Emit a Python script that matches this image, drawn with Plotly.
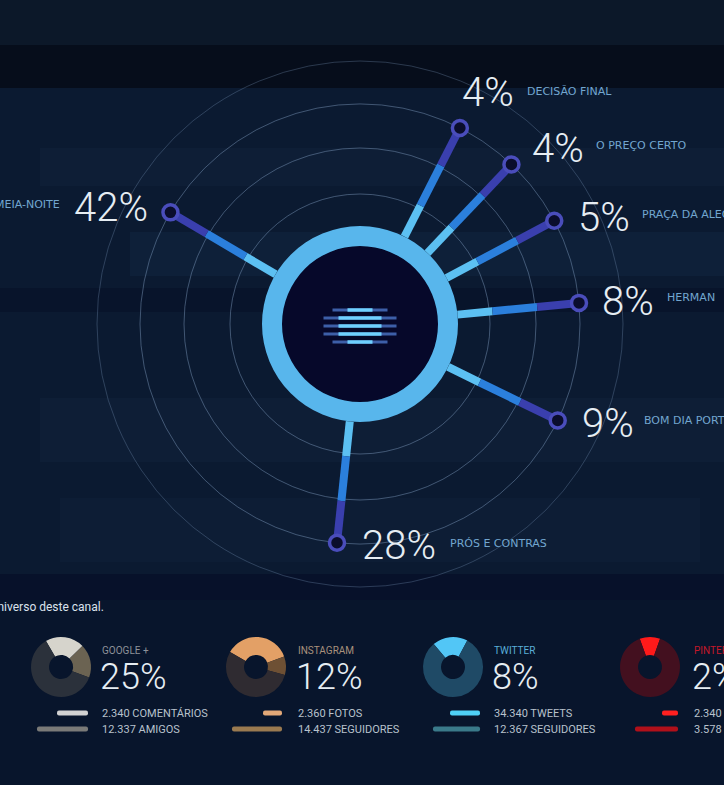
import numpy as np
import plotly.graph_objects as go

W, H = 724, 785

# ---------------- data ----------------
programas = ["MEIA-NOITE", "DECISÃO FINAL", "O PREÇO CERTO", "PRAÇA DA ALEGRIA",
             "HERMAN", "BOM DIA PORTUGAL", "PRÓS E CONTRAS"]
percentagens = [42, 4, 4, 5, 8, 9, 28]
angulos = [149.5, 63.0, 46.5, 28.0, 5.5, -26.0, -96.0]

redes = ["GOOGLE +", "INSTAGRAM", "TWITTER", "PINTEREST"]
redes_pct = [25, 12, 8, 2]
donut_destaque = [21, 36, 19, 11]
donut_secundario = [18, 10, 0, 0]
donut_inicio = [-30, -60, -40, -20]
metrica1 = ["2.340 COMENTÁRIOS", "2.360 FOTOS", "34.340 TWEETS", "2.340 PINS"]
metrica2 = ["12.337 AMIGOS", "14.437 SEGUIDORES", "12.367 SEGUIDORES", "3.578 SEGUIDORES"]
barra1 = [31, 19, 30, 16]
barra2 = [51, 50, 47, 43]

# ---------------- geometry / style ----------------
CX, CY = 360, 324
R_OUT = 263
R_RINGS = [130, 176, 220]
SEG = [(98, 133, "#5cc0f2"), (133, 178, "#2b7fdc"), (178, 220, "#3a3fae")]
R_DOT = 220

PCT_FONT = dict(family="Roboto", size=40, color="#e6edf3", weight=300)
NAME_FONT = dict(family="DejaVu Sans", size=11, color="#72a6cf")

pct_off = [(-20, -5, "right"), (0, -35, "left"), (19, -16, "left"), (22, -3, "left"),
           (21, -1, "left"), (22, 3, "left"), (23, 3, "left")]
name_off = [(-108, -8, "right"), (65, -36, "left"), (83, -19, "left"), (86, -6, "left"),
            (86, -5, "left"), (84, 0, "left"), (111, 1, "left")]

fig = go.Figure()

# --- background bands (decorative) ---
bands = [
    (0, 0, 724, 45, "#0c1829", 1),
    (0, 45, 724, 88, "#060d1b", 1),
    (40, 148, 724, 186, "#10213b", 0.6),
    (130, 232, 724, 276, "#112440", 0.6),
    (0, 288, 724, 312, "#07122a", 0.7),
    (40, 398, 724, 462, "#10213b", 0.6),
    (60, 498, 700, 562, "#0f1f39", 0.5),
    (0, 574, 724, 600, "#07112a", 0.9),
    (0, 600, 724, 785, "#08152c", 1),
]
for x0, y0, x1, y1, c, o in bands:
    fig.add_shape(type="rect", x0=x0, y0=y0, x1=x1, y1=y1, xref="x", yref="y",
                  fillcolor=c, opacity=o, line_width=0, layer="below")

# --- radial chart (polar) ---
fig.add_trace(go.Barpolar(r=[78], base=[0], theta=[0], width=[360],
                          marker=dict(color="#06082a", line_width=0),
                          hoverinfo="skip", subplot="polar"))
fig.add_trace(go.Barpolar(r=[20], base=[78], theta=[0], width=[360],
                          marker=dict(color="#58b6ec", line_width=0),
                          hoverinfo="skip", subplot="polar"))
for r0, r1, col in SEG:
    rr, tt = [], []
    for a in angulos:
        rr += [r0, r1, None]
        tt += [a, a, None]
    fig.add_trace(go.Scatterpolar(r=rr, theta=tt, mode="lines",
                                  line=dict(color=col, width=8),
                                  hoverinfo="skip", subplot="polar"))
fig.add_trace(go.Scatterpolar(r=[R_DOT] * len(angulos), theta=angulos, mode="markers",
                              marker=dict(size=15, color="#0a0d2c",
                                          line=dict(color="#4a4dbb", width=3.5)),
                              hoverinfo="skip", subplot="polar"))

for i, a in enumerate(angulos):
    px = CX + R_DOT * np.cos(np.radians(a))
    py = CY - R_DOT * np.sin(np.radians(a))
    dx, dy, anc = pct_off[i]
    fig.add_annotation(x=px + dx, y=py + dy, xref="x", yref="y", text=f"{percentagens[i]}%",
                       showarrow=False, xanchor=anc, yanchor="middle", font=PCT_FONT)
    dx, dy, anc = name_off[i]
    fig.add_annotation(x=px + dx, y=py + dy, xref="x", yref="y", text=programas[i],
                       showarrow=False, xanchor=anc, yanchor="middle", font=NAME_FONT)

# center icon (decorative stripes)
rows = [(-16, 12.5, 27.5), (-8, 21.5, 36.5), (0, 21.5, 36.5), (8, 21.5, 36.5), (16, 12.5, 27.5)]
for dy, hb, hd in rows:
    fig.add_shape(type="line", x0=CX - hd, x1=CX + hd, y0=CY + 2 + dy, y1=CY + 2 + dy,
                  xref="x", yref="y", line=dict(color="#3d5fa8", width=3), layer="above")
    fig.add_shape(type="line", x0=CX - hb, x1=CX + hb, y0=CY + 2 + dy, y1=CY + 2 + dy,
                  xref="x", yref="y", line=dict(color="#6fd0ff", width=3.5), layer="above")

# --- bottom section ---
fig.add_annotation(x=106, y=607, xref="x", yref="y", text="Conheça o universo deste canal.",
                   showarrow=False, xanchor="right", yanchor="middle",
                   font=dict(family="Roboto", size=12, color="#dbe3ec"))

g_cx = [61, 256, 453, 650]
g_cy = 667
g_r = 30
g_tx = [100, 296, 492, 692]
g_bar_end = [88, 282, 480, 678]
title_col = ["#8e9299", "#a8917c", "#5aaed8", "#c4182a"]
pie_cols = [["#d6d4cc", "#6b6352", "#2b313b"],
            ["#e3a066", "#6e5034", "#2f2b31"],
            ["#52c6f6", "#1f4a66", "#1f4a66"],
            ["#ff1a1a", "#4a1020", "#43101f"]]
bar1_col = ["#d2d2d2", "#e2a878", "#4fd0f5", "#ff2020"]
bar2_col = ["#7a7a78", "#9a7a50", "#3a7a8a", "#b0101a"]

for i in range(4):
    vals = [donut_destaque[i], donut_secundario[i],
            100 - donut_destaque[i] - donut_secundario[i]]
    fig.add_trace(go.Pie(values=vals, hole=0.4, sort=False, direction="clockwise",
                         rotation=donut_inicio[i], textinfo="none", hoverinfo="skip",
                         marker=dict(colors=pie_cols[i], line=dict(width=0)),
                         showlegend=False,
                         domain=dict(x=[(g_cx[i] - g_r) / W, (g_cx[i] + g_r) / W],
                                     y=[1 - (g_cy + g_r) / H, 1 - (g_cy - g_r) / H])))
    fig.add_annotation(x=g_tx[i], y=650, xref="x", yref="y", text=redes[i], showarrow=False,
                       xanchor="left", yanchor="middle",
                       font=dict(family="Roboto", size=10, color=title_col[i]))
    fig.add_annotation(x=g_tx[i] - 2, y=677, xref="x", yref="y", text=f"{redes_pct[i]}%",
                       showarrow=False, xanchor="left", yanchor="middle",
                       font=dict(family="Roboto", size=36, color="#e6edf3", weight=300))
    fig.add_annotation(x=g_tx[i], y=713, xref="x", yref="y", text=metrica1[i], showarrow=False,
                       xanchor="left", yanchor="middle",
                       font=dict(family="Roboto", size=11, color="#b8c2cc"))
    fig.add_annotation(x=g_tx[i], y=729, xref="x", yref="y", text=metrica2[i], showarrow=False,
                       xanchor="left", yanchor="middle",
                       font=dict(family="Roboto", size=11, color="#b8c2cc"))

fig.add_trace(go.Bar(orientation="h", y=[713] * 4, x=barra1,
                     base=[e - v for e, v in zip(g_bar_end, barra1)],
                     width=5, marker=dict(color=bar1_col, line_width=0, cornerradius=3),
                     hoverinfo="skip", xaxis="x", yaxis="y"))
fig.add_trace(go.Bar(orientation="h", y=[729] * 4, x=barra2,
                     base=[e - v for e, v in zip(g_bar_end, barra2)],
                     width=5, marker=dict(color=bar2_col, line_width=0, cornerradius=3),
                     hoverinfo="skip", xaxis="x", yaxis="y"))

fig.update_layout(
    width=W, height=H, margin=dict(l=0, r=0, t=0, b=0),
    paper_bgcolor="#0b1a31", plot_bgcolor="rgba(0,0,0,0)",
    showlegend=False, barmode="overlay",
    xaxis=dict(range=[0, W], visible=False, domain=[0, 1], fixedrange=True),
    yaxis=dict(range=[H, 0], visible=False, domain=[0, 1], fixedrange=True),
    polar=dict(
        domain=dict(x=[(CX - R_OUT) / W, (CX + R_OUT) / W],
                    y=[1 - (CY + R_OUT) / H, 1 - (CY - R_OUT) / H]),
        bgcolor="rgba(0,0,0,0)",
        radialaxis=dict(range=[0, R_OUT], tickvals=R_RINGS, showticklabels=False, ticks="",
                        showline=False, gridcolor="rgba(130,160,195,0.45)", gridwidth=1),
        angularaxis=dict(showgrid=False, showticklabels=False, ticks="",
                         showline=True, linecolor="rgba(130,160,195,0.30)", linewidth=1,
                         rotation=0, direction="counterclockwise"),
    ),
)

fig.write_html("out.html")
